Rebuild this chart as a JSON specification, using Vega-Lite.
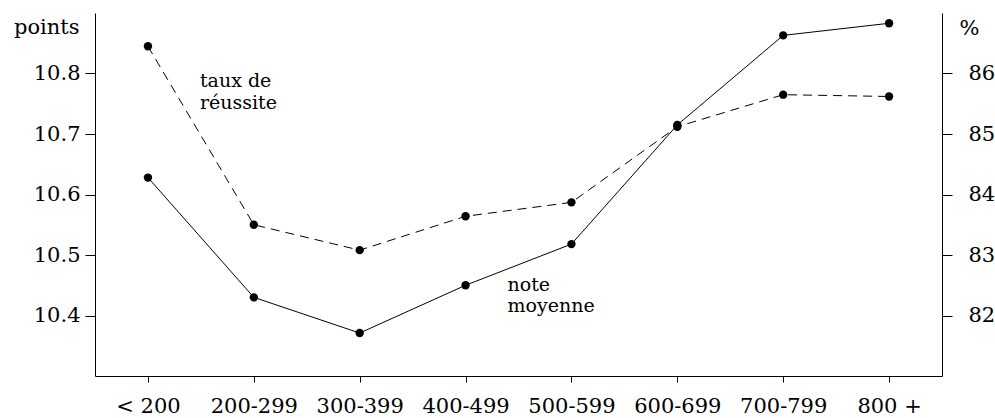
{
  "$schema": "https://vega.github.io/schema/vega-lite/v6.json",
  "width": 847,
  "height": 363,
  "autosize": "none",
  "padding": {"left": 95, "top": 13, "right": 53, "bottom": 42},
  "config": {
    "view": {"stroke": null},
    "font": "DejaVu Serif",
    "text": {"font": "DejaVu Serif"},
    "axis": {
      "grid": false,
      "domainColor": "black",
      "domainWidth": 1,
      "tickColor": "black",
      "tickWidth": 1,
      "labelColor": "black",
      "labelFont": "DejaVu Serif",
      "labelFontSize": 21,
      "titleColor": "black",
      "titleFont": "DejaVu Serif",
      "titleFontSize": 21,
      "titleFontWeight": "normal"
    }
  },
  "data": {
    "values": [
      {"cat": "< 200", "note": 10.628, "taux": 86.45},
      {"cat": "200-299", "note": 10.43, "taux": 83.5},
      {"cat": "300-399", "note": 10.371, "taux": 83.08},
      {"cat": "400-499", "note": 10.45, "taux": 83.64},
      {"cat": "500-599", "note": 10.518, "taux": 83.87},
      {"cat": "600-699", "note": 10.715, "taux": 85.12},
      {"cat": "700-799", "note": 10.863, "taux": 85.65},
      {"cat": "800 +", "note": 10.883, "taux": 85.62}
    ]
  },
  "encoding": {
    "x": {
      "field": "cat",
      "type": "ordinal",
      "sort": ["< 200", "200-299", "300-399", "400-499", "500-599", "600-699", "700-799", "800 +"],
      "scale": {"type": "point", "padding": 0.5},
      "axis": {
        "title": null,
        "labelAngle": 0,
        "tickSize": 6,
        "labelPadding": 30,
        "labelBaseline": "alphabetic"
      }
    }
  },
  "layer": [
    {
      "encoding": {
        "y": {
          "field": "note",
          "type": "quantitative",
          "scale": {"domain": [10.3, 10.9], "zero": false, "nice": false},
          "axis": {
            "orient": "left",
            "values": [10.4, 10.5, 10.6, 10.7, 10.8],
            "format": ".1f",
            "tickSize": 10,
            "labelPadding": 5,
            "title": "points",
            "titleAngle": 0,
            "titleAlign": "right",
            "titleBaseline": "alphabetic",
            "titleX": -16,
            "titleY": 20
          }
        }
      },
      "layer": [
        {"mark": {"type": "line", "color": "black", "strokeWidth": 1}},
        {"mark": {"type": "point", "filled": true, "size": 70, "color": "black", "opacity": 1}},
        {
          "data": {"values": [{"cat": "400-499", "note": 10.44, "label": "note\nmoyenne"}]},
          "mark": {"type": "text", "align": "left", "baseline": "alphabetic", "dx": 42, "fontSize": 19, "lineHeight": 21, "lineBreak": "\n", "color": "black", "font": "DejaVu Serif"},
          "encoding": {"text": {"field": "label"}}
        }
      ]
    },
    {
      "encoding": {
        "y": {
          "field": "taux",
          "type": "quantitative",
          "scale": {"domain": [81, 87], "zero": false, "nice": false},
          "axis": {
            "orient": "right",
            "values": [82, 83, 84, 85, 86],
            "tickSize": 10,
            "labelPadding": 16,
            "title": "%",
            "titleAngle": 0,
            "titleAlign": "left",
            "titleBaseline": "alphabetic",
            "titleX": 17,
            "titleY": 21
          }
        }
      },
      "layer": [
        {"mark": {"type": "line", "color": "black", "strokeWidth": 1, "strokeDash": [9, 6]}},
        {"mark": {"type": "point", "filled": true, "size": 70, "color": "black", "opacity": 1}},
        {
          "data": {"values": [{"cat": "< 200", "taux": 85.77, "label": "taux de\nréussite"}]},
          "mark": {"type": "text", "align": "left", "baseline": "alphabetic", "dx": 52, "fontSize": 19, "lineHeight": 22, "lineBreak": "\n", "color": "black", "font": "DejaVu Serif"},
          "encoding": {"text": {"field": "label"}}
        }
      ]
    }
  ],
  "resolve": {"scale": {"y": "independent"}}
}
